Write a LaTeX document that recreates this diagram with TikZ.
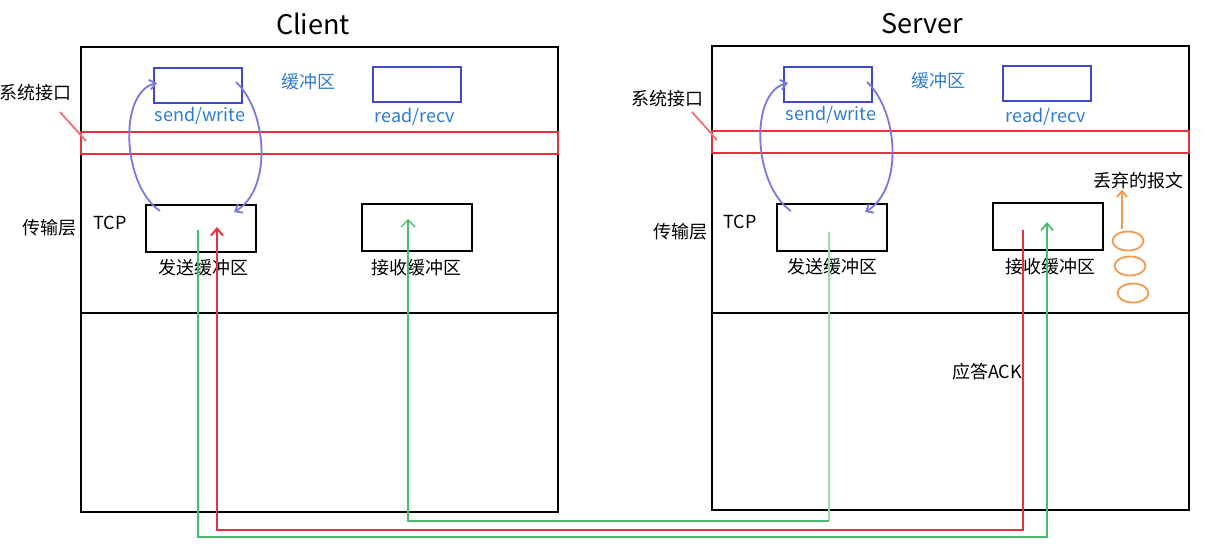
\documentclass[tikz,border=0pt]{standalone}
\usepackage{fontspec}
\setmainfont{Noto Sans CJK SC}
\usetikzlibrary{arrows.meta,shapes.geometric}
\definecolor{bxblue}{HTML}{3F48CC}
\definecolor{txblue}{HTML}{2E7BD0}
\definecolor{cvblue}{HTML}{7878E0}
\definecolor{lnred}{HTML}{E8303F}
\definecolor{lngreen}{HTML}{4CBB6B}
\definecolor{lngreenl}{HTML}{9ADCAA}
\definecolor{orng}{HTML}{F39A4F}
\tikzset{
  outer/.style={draw=black, line width=2pt, minimum width=477pt, minimum height=465pt, anchor=north west, inner sep=0pt},
  band/.style={draw=lnred, line width=1.8pt, minimum width=477pt, minimum height=22pt, anchor=north west, inner sep=0pt},
  apibox/.style={draw=bxblue, line width=2pt, minimum width=88pt, minimum height=35pt, anchor=north west, inner sep=0pt},
  bufbox/.style={draw=black, line width=2pt, minimum width=110pt, minimum height=47pt, anchor=north west, inner sep=0pt},
  lbl/.style={font=\fontsize{18}{20}\selectfont, inner sep=0pt},
  bluelbl/.style={lbl, text=txblue},
  title/.style={font=\fontsize{27}{30}\selectfont, inner sep=0pt},
  loop/.style={draw=cvblue, line width=1.8pt, -{Straight Barb[length=6pt,width=10pt]}},
  redarr/.style={draw=lnred, line width=2pt, -{Straight Barb[length=7pt,width=12pt]}},
  grnarr/.style={draw=lngreen, line width=1.8pt, -{Straight Barb[length=7pt,width=12pt]}},
  thinarr/.style={draw=lngreen, line width=1.3pt, -{Straight Barb[length=7pt,width=14pt]}},
  egg/.style={ellipse, draw=orng, line width=1.8pt, minimum width=31pt, minimum height=19pt, inner sep=0pt},
}
\begin{document}
\begin{tikzpicture}[x=1pt,y=-1pt]
\useasboundingbox (0,0) rectangle (1214,549);
% titles
\node[title] (tc) at (313,24) {Client};
\node[title] (ts) at (922,24) {Server};
% outer boxes
\node[outer] (cbox) at (80,46) {};
\node[outer, minimum height=464pt] (sbox) at (711,45) {};
\coordinate (cdl) at (80,313); \coordinate (cdr) at (557,313);
\coordinate (sdl) at (711,313); \coordinate (sdr) at (1189,313);
\draw[line width=2pt] (cdl) -- (cdr);
\draw[line width=2pt] (sdl) -- (sdr);
% red bands
\node[band] (cband) at (80,131) {};
\node[band] (sband) at (711,130) {};
% api boxes
\node[apibox] (csend) at (153,67) {};
\node[apibox] (crecv) at (372,66) {};
\node[apibox] (ssend) at (783,66) {};
\node[apibox] (srecv) at (1002,65) {};
\node[bluelbl] (lcs) at (200,116) {send/write};
\node[bluelbl] (lcb) at (308,82) {缓冲区};
\node[bluelbl] (lcr) at (415,117) {read/recv};
\node[bluelbl] (lss) at (831,115) {send/write};
\node[bluelbl] (lsb) at (938,81) {缓冲区};
\node[bluelbl] (lsr) at (1046,117) {read/recv};
% buffer boxes
\node[bufbox] (cbs) at (145,204) {};
\node[bufbox] (cbr) at (361,203) {};
\node[bufbox] (sbs) at (776,203) {};
\node[bufbox] (sbr) at (992,202) {};
\node[lbl] (lcbs) at (203,268) {发送缓冲区};
\node[lbl] (lcbr) at (416,268) {接收缓冲区};
\node[lbl] (lsbs) at (832,267) {发送缓冲区};
\node[lbl] (lsbr) at (1050,267) {接收缓冲区};
% side labels
\node[lbl] (csys) at (35,93) {系统接口};
\node[lbl] (ssys) at (667,99) {系统接口};
\node[lbl] (ctl) at (49,228) {传输层};
\node[lbl] (stl) at (680,232) {传输层};
\node[lbl] (ctcp) at (110,223) {TCP};
\node[lbl] (stcp) at (740,222) {TCP};
% pointers to red band
\coordinate (cp1) at (60,112); \coordinate (cp2) at (86,141);
\coordinate (sp1) at (692,112); \coordinate (sp2) at (717,140);
\draw[draw=lnred!70, line width=1.8pt] (cp1) -- (cp2);
\draw[draw=lnred!70, line width=1.8pt] (sp1) -- (sp2);
% blue loops (client)
\coordinate (cl1) at (160,211); \coordinate (cl2) at (157,83);
\coordinate (cr1) at (236,82); \coordinate (cr2) at (234,212);
\draw[loop] (cl1) .. controls (122,185) and (118,92) .. (cl2);
\draw[loop] (cr1) .. controls (268,112) and (272,190) .. (cr2);
% blue loops (server)
\coordinate (sl1) at (791,211); \coordinate (sl2) at (788,83);
\coordinate (sr1) at (867,82); \coordinate (sr2) at (865,212);
\draw[loop] (sl1) .. controls (753,185) and (749,92) .. (sl2);
\draw[loop] (sr1) .. controls (899,112) and (903,190) .. (sr2);
% red path: server recv -> client send
\coordinate (ra) at (1023,230); \coordinate (rb) at (1023,530);
\coordinate (rc) at (217,530); \coordinate (rd) at (217,227);
\draw[redarr] (ra) -- (rb) -- (rc) -- (rd);
% green thick: client send -> server recv
\coordinate (ga) at (198,230); \coordinate (gb) at (198,537);
\coordinate (gc) at (1047,537); \coordinate (gd) at (1047,222);
\draw[grnarr] (ga) -- (gb) -- (gc) -- (gd);
% green thin: server send -> client recv
\coordinate (ta) at (829,232); \coordinate (tb) at (829,521);
\coordinate (tc2) at (408,521); \coordinate (td) at (408,219);
\draw[draw=lngreenl, line width=1.3pt] (ta) -- (tb);
\draw[thinarr] (tb) -- (tc2) -- (td);
% orange
\node[egg] (e1) at (1128,241) {};
\node[egg] (e2) at (1130,266) {};
\node[egg] (e3) at (1133,293) {};
\node[lbl] (drop) at (1138,181) {丢弃的报文};
\coordinate (oa) at (1122,229);
\draw[draw=orng, line width=1.8pt, -{Straight Barb[length=6pt,width=10pt]}] (oa) -- (drop.south west -| oa);
% ACK label
\node[lbl] (ack) at (987,372) {应答ACK};
\end{tikzpicture}
\end{document}
